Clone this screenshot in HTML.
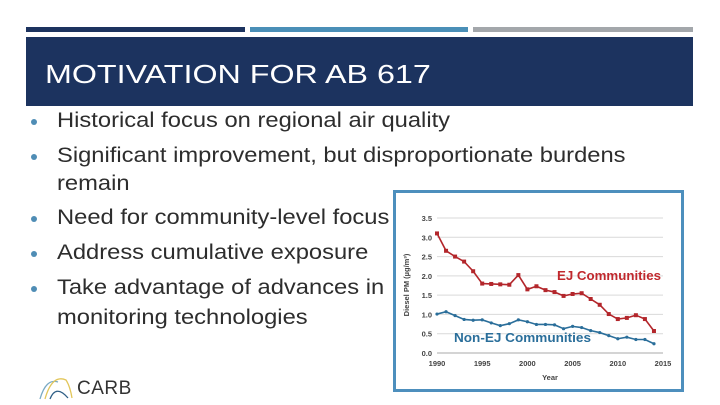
<!DOCTYPE html>
<html><head><meta charset="utf-8"><style>
body{margin:0;width:720px;height:405px;background:#fff;position:relative;overflow:hidden;font-family:"Liberation Sans",sans-serif}
.abs{position:absolute}
.bl{position:absolute;left:57px;font-size:21px;color:#2d2d2d;white-space:nowrap;line-height:20px;transform:scaleX(1.13);transform-origin:0 0}
.dot{position:absolute;left:31px;width:6px;height:6px;border-radius:3px;background:#4f8db5}
</style></head><body>
<div class="abs" style="left:26px;top:27px;width:219px;height:5px;background:#1c335f"></div>
<div class="abs" style="left:250px;top:27px;width:218px;height:5px;background:#4a8fb7"></div>
<div class="abs" style="left:473px;top:27px;width:220px;height:5px;background:#a3a7ab"></div>
<div class="abs" style="left:26px;top:37px;width:667px;height:69px;background:#1c335f"></div>
<div class="abs" style="left:45px;top:59px;font-size:26px;color:#fff;line-height:30px;transform:scaleX(1.24);transform-origin:0 0;white-space:nowrap">MOTIVATION FOR AB 617</div>

<div class="dot" style="top:119px"></div>
<div class="bl" style="top:111px">Historical focus on regional air quality</div>
<div class="dot" style="top:154px"></div>
<div class="bl" style="top:146px">Significant improvement, but disproportionate burdens</div>
<div class="bl" style="top:174px">remain</div>
<div class="dot" style="top:216px"></div>
<div class="bl" style="top:208px">Need for community-level focus</div>
<div class="dot" style="top:251px"></div>
<div class="bl" style="top:243px">Address cumulative exposure</div>
<div class="dot" style="top:286px"></div>
<div class="bl" style="top:278px">Take advantage of advances in</div>
<div class="bl" style="top:308px">monitoring technologies</div>

<div class="abs" style="left:36px;top:372px;width:100px;height:28px">
<svg width="44" height="28" style="position:absolute;left:0;top:0"><path d="M4 27 Q10 6 22 10" stroke="#7aaac4" fill="none" stroke-width="1.3"/><path d="M9 27 Q16 2 30 8 Q34 14 36 26" stroke="#e2c65a" fill="none" stroke-width="1.3"/><path d="M14 27 Q20 12 32 26" stroke="#2f5f86" fill="none" stroke-width="1.3"/></svg>
<span style="position:absolute;left:41px;top:6px;font-size:19px;color:#333;letter-spacing:0.5px">CARB</span>
</div>
<div class="abs" style="left:675px;top:358px;font-size:9px;color:#888">2</div>

<svg class="abs" style="left:0;top:0" width="720" height="405" id="chart">
<rect x="394.5" y="191.5" width="288" height="199" fill="#fff" stroke="#4d8fbd" stroke-width="3"/>
</svg>
<script>
const years=[1990,1991,1992,1993,1994,1995,1996,1997,1998,1999,2000,2001,2002,2003,2004,2005,2006,2007,2008,2009,2010,2011,2012,2013,2014];
const ejValues=[3.1,2.65,2.5,2.37,2.12,1.8,1.79,1.78,1.77,2.02,1.65,1.73,1.63,1.58,1.48,1.53,1.55,1.4,1.25,1.01,0.88,0.91,0.98,0.88,0.57];
const nonEjValues=[1.01,1.07,0.97,0.87,0.85,0.86,0.78,0.71,0.76,0.86,0.81,0.74,0.74,0.73,0.63,0.69,0.66,0.58,0.53,0.45,0.37,0.41,0.35,0.35,0.24];
const yTicks=[0,0.5,1,1.5,2,2.5,3,3.5];
const xTicks=[1990,1995,2000,2005,2010,2015];
const NS='http://www.w3.org/2000/svg';
const svg=document.getElementById('chart');
const X=v=>437+(v-1990)*(663-437)/25;
const Y=v=>353-v*(353-218)/3.5;
function mk(t,a){const e=document.createElementNS(NS,t);for(const k in a)e.setAttribute(k,a[k]);svg.appendChild(e);return e;}
yTicks.forEach(t=>{
 const l=mk('line',{x1:X(1990),x2:X(2015),y1:Y(t),y2:Y(t),stroke:t===0?'#aaa':'#d9d9d9','stroke-width':1});
 
 
 const tx=mk('text',{x:X(1990)-5,y:Y(t)+3,'text-anchor':'end','font-size':7.5,'font-weight':'bold',fill:'#444','font-family':'Liberation Sans, sans-serif'});
 tx.textContent=t.toFixed(1);
 
 
});
xTicks.forEach(t=>{
 const tx=mk('text',{x:X(t),y:Y(0)+13,'text-anchor':'middle','font-size':7.5,'font-weight':'bold',fill:'#444','font-family':'Liberation Sans, sans-serif'});
 tx.textContent=t;
 
 
});
const xt=mk('text',{x:550,y:380,'text-anchor':'middle','font-size':7.5,'font-weight':'bold',fill:'#444','font-family':'Liberation Sans, sans-serif'});
xt.textContent='Year';


const yt=mk('text',{x:0,y:0,transform:'translate(409,285) rotate(-90)','text-anchor':'middle','font-size':7.5,'font-weight':'bold',fill:'#444','font-family':'Liberation Sans, sans-serif'});
yt.textContent='Diesel PM (µg/m³)';


function series(vals,color,name,marker){
 const p=mk('polyline',{points:vals.map((v,i)=>X(years[i])+','+Y(v)).join(' '),fill:'none',stroke:color,'stroke-width':1.6});
 
 
 vals.forEach((v,i)=>{
  let m;
  if(marker==='sq') m=mk('rect',{x:X(years[i])-2,y:Y(v)-2,width:4,height:4,fill:color});
  else m=mk('circle',{cx:X(years[i]),cy:Y(v),r:1.6,fill:color});
  
  
 });
}
series(ejValues,'#b3262b','ej','sq');
series(nonEjValues,'#2a6e9a','non-ej','c');
const l1=mk('text',{x:557,y:280,'font-size':12.5,'font-weight':'bold',fill:'#c0282d','font-family':'Liberation Sans, sans-serif',textLength:104,lengthAdjust:'spacingAndGlyphs'});
l1.textContent='EJ Communities';


const l2=mk('text',{x:454,y:342,'font-size':13,'font-weight':'bold',fill:'#2a6e9a','font-family':'Liberation Sans, sans-serif',textLength:137,lengthAdjust:'spacingAndGlyphs'});
l2.textContent='Non-EJ Communities';


</script>
</body></html>
